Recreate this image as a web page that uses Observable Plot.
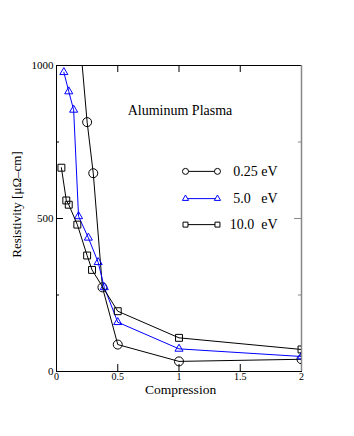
<!DOCTYPE html>
<html>
<head>
<meta charset="utf-8">
<script src="https://cdn.jsdelivr.net/npm/d3@7"></script>
<script src="https://cdn.jsdelivr.net/npm/@observablehq/plot@0.6"></script>
<style>
  html, body { margin: 0; padding: 0; background: #fff; }
  svg text { font-family: 'Liberation Serif', 'Times New Roman', serif; }
</style>
</head>
<body>
<div id="chart"></div>
<script>
// ---- data ----
const comp025 = [0.2, 0.25, 0.3, 0.375, 0.5, 1, 2];
const res025  = [1046, 815, 648, 275, 88, 33, 40];
const comp5   = [0.06, 0.1, 0.14, 0.18, 0.26, 0.34, 0.39, 0.5, 1, 2];
const res5    = [978, 915, 855, 507, 437, 357, 275, 161, 74, 49];
const comp10  = [0.04, 0.08, 0.1, 0.17, 0.25, 0.29, 0.5, 1, 2];
const res10   = [666, 559, 545, 480, 379, 332, 197, 110, 72];
const seriesLabels = ["0.25\u00A0eV", "5.0\u00A0\u00A0\u00A0eV", "10.0\u00A0\u00A0eV"];
const xTicks = [0, 0.5, 1, 1.5, 2];
const xTickLabels = ["0", "0.5", "1", "1.5", "2"];
const yTicks = [0, 500, 1000];
const yTickLabels = ["0", "500", "1000"];
const yMinorTicks = [250, 750];
const titleText = "Aluminum Plasma";
const xLabel = "Compression";
const yLabel = "Resistivity [μΩ–cm]";

// ---- styling / layout ----
const FONT = "'Liberation Serif', 'Times New Roman', serif";
const series = [
  {x: comp025, y: res025, color: "#000000", symbol: "circle",   r: 4.5, lr: 3.0},
  {x: comp5,   y: res5,   color: "#0000ff", symbol: "triangle", r: 3.0, lr: 2.3},
  {x: comp10,  y: res10,  color: "#000000", symbol: "square",   r: 3.9, lr: 2.8}
];
// legend layout in data units
const legX1 = 1.053, legX2 = 1.314, legTextX = 1.804;
const legY = [654, 565, 480];

const marks = [];
// frame
marks.push(Plot.frame({stroke: "#000", strokeWidth: 1}));
marks.push(Plot.ruleX([2], {stroke: "#888", strokeWidth: 1.5}));
// inward ticks
const majorX = xTicks.filter(d => d > 0 && d < 2);
const majorY = yTicks.filter(d => d > 0 && d < 1000);
marks.push(Plot.ruleX(majorX, {x: d => d, y1: 0, y2: 23, stroke: "#000"}));
marks.push(Plot.ruleX(majorX, {x: d => d, y1: 1000, y2: 977, stroke: "#000"}));
marks.push(Plot.ruleY(majorY, {y: d => d, x1: 0, x2: 0.057, stroke: "#000"}));
marks.push(Plot.ruleY(yMinorTicks, {y: d => d, x1: 0, x2: 0.025, stroke: "#000"}));
marks.push(Plot.ruleY(majorY, {y: d => d, x1: 2, x2: 1.943, stroke: "#888"}));
marks.push(Plot.ruleY(yMinorTicks, {y: d => d, x1: 2, x2: 1.975, stroke: "#888"}));
// tick labels
marks.push(Plot.axisX({ticks: xTicks, tickSize: 0, tickPadding: 1, fontSize: 10, fontFamily: FONT, fill: "#000",
  tickFormat: d => xTickLabels[xTicks.indexOf(d)], label: null}));
marks.push(Plot.axisY({ticks: yTicks, tickSize: 0, tickPadding: 3, fontSize: 11, fontFamily: FONT, fill: "#000",
  tickFormat: d => yTickLabels[yTicks.indexOf(d)], label: null}));

// series
series.forEach(s => {
  const idx = d3.range(s.x.length);
  marks.push(Plot.line(idx, {x: i => s.x[i], y: i => s.y[i], stroke: s.color, strokeWidth: 1, clip: true}));
  marks.push(Plot.dot(idx, {x: i => s.x[i], y: i => s.y[i], symbol: s.symbol, r: s.r, stroke: s.color, fill: "none", strokeWidth: 1, clip: true}));
});

// legend
series.forEach((s, k) => {
  const ends = [legX1, legX2];
  marks.push(Plot.line(ends, {x: d => d, y: () => legY[k], stroke: s.color, strokeWidth: 1}));
  marks.push(Plot.dot(ends, {x: d => d, y: () => legY[k], symbol: s.symbol, r: s.lr, stroke: s.color, fill: "white", strokeWidth: 1}));
  marks.push(Plot.text([seriesLabels[k]], {x: legTextX, y: legY[k], text: d => d, textAnchor: "end", lineAnchor: "middle", fontSize: 14, fontFamily: FONT, fill: "#000"}));
});

// title & axis titles
marks.push(Plot.text([titleText], {frameAnchor: "top", text: d => d, textAnchor: "middle", lineAnchor: "middle", dx: 1, dy: 45.5, fontSize: 14, fontFamily: FONT, fill: "#000"}));
marks.push(Plot.text([xLabel], {frameAnchor: "bottom", text: d => d, textAnchor: "middle", lineAnchor: "middle", dx: 1.5, dy: 18, fontSize: 13.5, fontFamily: FONT, fill: "#000"}));
marks.push(Plot.text([yLabel], {frameAnchor: "left", text: d => d, textAnchor: "middle", lineAnchor: "middle", dx: -40, dy: -14, rotate: -90, fontSize: 13, fontFamily: FONT, fill: "#000"}));

const chart = Plot.plot({
  width: 354,
  height: 436,
  marginTop: 65,
  marginBottom: 65,
  marginLeft: 56,
  marginRight: 53,
  x: {domain: [0, 2], axis: null},
  y: {domain: [0, 1000], axis: null},
  style: {fontFamily: FONT, background: "#fff", color: "#000"},
  marks
});
document.getElementById("chart").appendChild(chart);
</script>
</body>
</html>
